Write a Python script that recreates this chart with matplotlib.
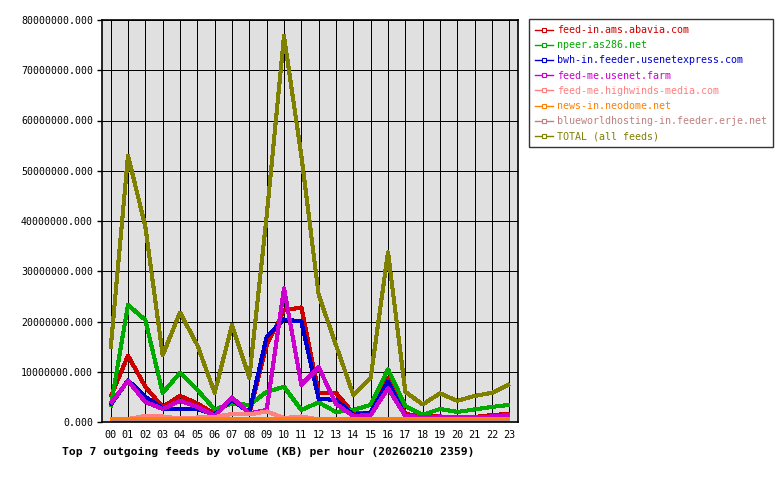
import matplotlib
matplotlib.use('Agg')
import matplotlib.pyplot as plt
from matplotlib.lines import Line2D
from matplotlib.ticker import StrMethodFormatter

hours = ['%02d' % h for h in range(24)]

# volume per hour, KB
abavia = [5.0e6, 13.2e6, 7.0e6, 3.0e6, 5.2e6, 3.7e6, 1.6e6, 4.7e6, 1.7e6, 15.3e6, 22.2e6, 22.8e6,
          5.8e6, 5.8e6, 1.7e6, 1.9e6, 8.7e6, 1.6e6, 1.1e6, 1.1e6, 1.0e6, 1.0e6, 1.4e6, 1.6e6]
npeer = [3.0e6, 23.3e6, 20.3e6, 5.8e6, 9.8e6, 6.4e6, 2.5e6, 3.7e6, 3.4e6, 6.0e6, 7.0e6, 2.4e6,
         3.9e6, 2.0e6, 2.4e6, 3.4e6, 10.5e6, 3.2e6, 1.4e6, 2.6e6, 2.0e6, 2.5e6, 3.0e6, 3.4e6]
bwh = [3.4e6, 8.3e6, 5.0e6, 2.7e6, 2.6e6, 2.6e6, 1.4e6, 4.4e6, 1.9e6, 17.0e6, 20.4e6, 20.0e6,
       4.6e6, 4.4e6, 1.4e6, 1.9e6, 8.0e6, 1.2e6, 1.0e6, 0.9e6, 0.7e6, 0.8e6, 0.7e6, 1.0e6]
usenetfarm = [3.7e6, 8.2e6, 4.0e6, 2.6e6, 4.2e6, 3.0e6, 1.2e6, 4.9e6, 1.7e6, 2.4e6, 26.6e6, 7.4e6,
              10.9e6, 3.6e6, 1.2e6, 1.4e6, 6.7e6, 1.2e6, 1.0e6, 1.1e6, 1.0e6, 1.0e6, 1.1e6, 1.4e6]
highwinds = [0.5e6, 0.6e6, 1.2e6, 1.1e6, 0.7e6, 0.9e6, 1.0e6, 1.6e6, 1.5e6, 2.1e6, 0.8e6, 1.1e6,
             0.5e6, 0.4e6, 0.3e6, 0.5e6, 0.3e6, 0.3e6, 0.3e6, 0.3e6, 0.3e6, 0.3e6, 0.3e6, 0.3e6]
neodome = [0.65e6, 0.65e6, 0.6e6, 0.6e6, 0.6e6, 0.6e6, 0.6e6, 0.6e6, 0.6e6, 0.6e6, 0.6e6, 0.6e6,
           0.6e6, 0.6e6, 0.6e6, 0.6e6, 0.6e6, 0.6e6, 0.6e6, 0.6e6, 0.6e6, 0.6e6, 0.6e6, 0.6e6]
erje = [0.25e6] * 24
total = [14.7e6, 53.0e6, 38.9e6, 13.3e6, 21.8e6, 15.3e6, 5.8e6, 19.3e6, 8.8e6, 41.0e6, 76.8e6, 53.0e6,
         25.3e6, 15.3e6, 5.4e6, 8.8e6, 33.8e6, 6.0e6, 3.5e6, 5.7e6, 4.2e6, 5.2e6, 5.8e6, 7.5e6]

series = [
    ('feed-in.ams.abavia.com', abavia, '#cc0000'),
    ('npeer.as286.net', npeer, '#00aa00'),
    ('bwh-in.feeder.usenetexpress.com', bwh, '#0000cc'),
    ('feed-me.usenet.farm', usenetfarm, '#cc00cc'),
    ('feed-me.highwinds-media.com', highwinds, '#ff8080'),
    ('news-in.neodome.net', neodome, '#ff8000'),
    ('blueworldhosting-in.feeder.erje.net', erje, '#c08080'),
    ('TOTAL (all feeds)', total, '#808000'),
]

plt.rcParams['font.family'] = 'DejaVu Sans Mono'

fig = plt.figure(figsize=(7.8, 4.8), dpi=100)
ax = fig.add_axes([102 / 780, 1 - 422 / 480, 416 / 780, 402 / 480])
ax.set_facecolor('#e0e0e0')

x = list(range(24))
handles = []
for name, vals, col in series:
    ax.plot(x, vals, color=col, linewidth=2.2, antialiased=False, solid_capstyle='butt')
    handles.append(Line2D([0], [0], color=col, linewidth=1.0, marker='s', markersize=3,
                          markerfacecolor='white', markeredgecolor=col, markeredgewidth=0.8))

ax.set_xlim(-0.5, 23.5)
ax.set_ylim(0, 80e6)
ax.set_xticks(x)
ax.set_xticklabels(hours)
ax.set_yticks([i * 10e6 for i in range(9)])
ax.yaxis.set_major_formatter(StrMethodFormatter('{x:.3f}'))
ax.grid(True, color='black', linewidth=0.72, antialiased=False)
ax.set_axisbelow(True)
ax.tick_params(axis='y', length=3.5, width=1, pad=3, labelsize=7.1)
ax.tick_params(axis='x', length=0, pad=6, labelsize=7.3)
for s in ax.spines.values():
    s.set_linewidth(1.2)

leg = fig.legend(handles, [s[0] for s in series], loc='upper left',
                 bbox_to_anchor=(529 / 780, 1 - 19 / 480), fontsize=7.2,
                 frameon=True, fancybox=False, edgecolor='black', handlelength=1.8,
                 handletextpad=0.4, labelspacing=0.52, borderpad=0.6, borderaxespad=0)
leg.get_frame().set_linewidth(1.0)
for txt, (_, _, col) in zip(leg.get_texts(), series):
    txt.set_color(col)

fig.text(62 / 780, 1 - 452 / 480, 'Top 7 outgoing feeds by volume (KB) per hour (20260210 2359)',
         fontsize=8.2, fontweight='bold', ha='left', va='center')

fig.savefig('out.png', dpi=100)
